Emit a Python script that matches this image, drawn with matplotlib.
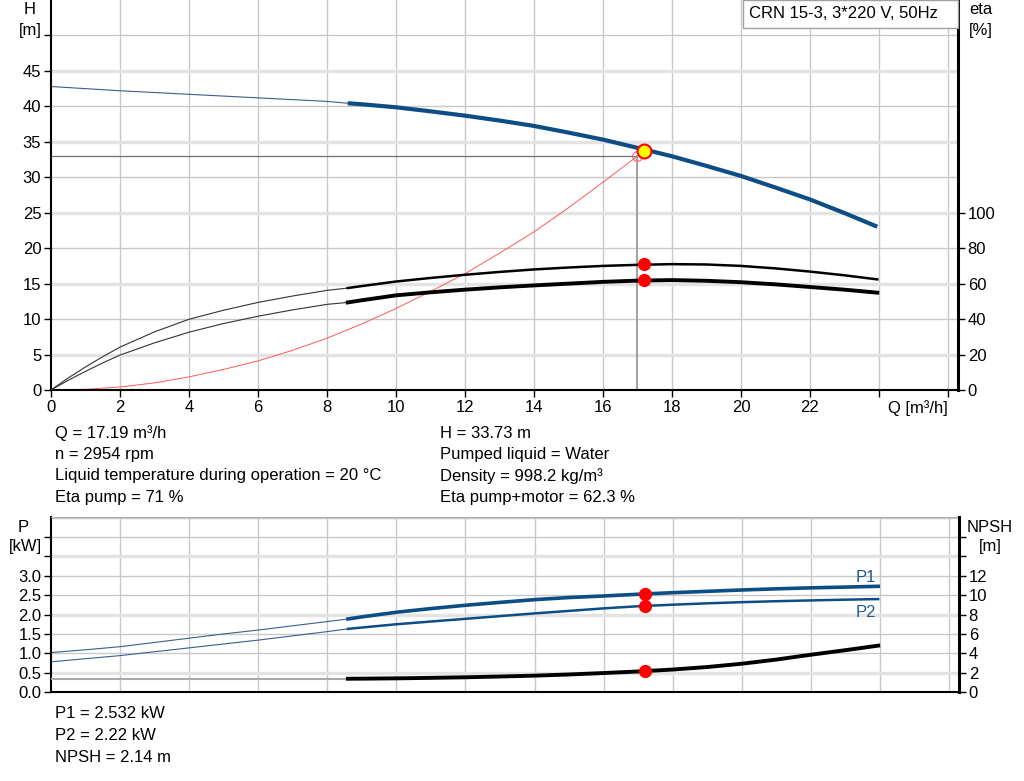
import numpy as np
import matplotlib
matplotlib.use("Agg")
import matplotlib.pyplot as plt
from matplotlib.patches import Rectangle

plt.rcParams['font.family'] = ['Liberation Sans', 'DejaVu Sans']

# duty point
q_duty = 17.19
h_duty = 33.73
eta_pump_duty = 71
eta_total_duty = 62.3
p1_duty = 2.532
p2_duty = 2.22
npsh_duty = 2.14
q_req = 17.0
h_req = 33.0

# H curve
q_h_thin = [0, 2, 4, 6, 8, 8.6]
h_thin = [42.8, 42.2, 41.7, 41.2, 40.7, 40.44]
q_thick = [8.6, 9, 10, 11, 12, 13, 14, 15, 16, 17, 18, 19, 20, 21, 22, 23, 23.95]
h_thick = [40.44, 40.3, 39.87, 39.3, 38.69, 38.0, 37.24, 36.3, 35.31, 34.15,
           32.96, 31.6, 30.18, 28.55, 26.87, 24.95, 23.03]

# eta curves [%]
q_eta_thin = [0, 0.5, 1, 1.5, 2, 3, 4, 5, 6, 7, 8, 8.6]
eta_pump_thin = [0, 6.8, 13.0, 18.8, 24.2, 32.8, 39.9, 45.0, 49.4, 53.0, 56.2, 57.5]
eta_tot_thin = [0, 5.5, 10.5, 15.3, 19.7, 26.6, 32.6, 37.5, 41.6, 45.2, 48.3, 49.4]
eta_pump_thick = [57.5, 58.6, 61.2, 63.2, 65.0, 66.6, 68.0, 69.1, 70.0, 70.6,
                  71.0, 70.8, 70.0, 68.6, 66.8, 64.7, 62.4]
eta_tot_thick = [49.4, 50.6, 53.4, 55.1, 56.6, 57.9, 59.0, 60.0, 61.0, 61.7,
                 62.0, 61.6, 60.8, 59.6, 58.1, 56.6, 54.9]

# system curve
q_sys = [0, 1, 2, 3, 4, 5, 6, 7, 8, 9, 10, 11, 12, 13, 14, 15, 16, 17.0]
h_sys = [0, 0.1, 0.42, 1.0, 1.85, 2.9, 4.1, 5.6, 7.3, 9.3, 11.5, 13.9, 16.4,
         19.3, 22.3, 25.7, 29.3, 33.0]

# power [kW]
q_p_thin = [0, 1, 2, 3, 4, 5, 6, 7, 8, 8.6]
p1_thin = [1.02, 1.09, 1.17, 1.28, 1.39, 1.50, 1.60, 1.71, 1.82, 1.886]
p2_thin = [0.78, 0.86, 0.94, 1.04, 1.14, 1.24, 1.34, 1.45, 1.56, 1.63]
p1_thick = [1.886, 1.94, 2.06, 2.155, 2.24, 2.315, 2.385, 2.44, 2.48, 2.525,
            2.565, 2.60, 2.635, 2.665, 2.69, 2.71, 2.73]
p2_thick = [1.63, 1.665, 1.75, 1.82, 1.89, 1.96, 2.03, 2.095, 2.16, 2.215,
            2.255, 2.29, 2.32, 2.345, 2.365, 2.385, 2.40]

# NPSH [m]
q_npsh_thin = [0, 8.6]
npsh_thin = [1.37, 1.37]
npsh_thick = [1.37, 1.38, 1.41, 1.46, 1.52, 1.60, 1.69, 1.81, 1.96, 2.12,
              2.32, 2.58, 2.92, 3.35, 3.85, 4.32, 4.79]

info_left = ["Q = 17.19 m³/h", "n = 2954 rpm",
             "Liquid temperature during operation = 20 °C", "Eta pump = 71 %"]
info_right = ["H = 33.73 m", "Pumped liquid = Water",
              "Density = 998.2 kg/m³", "Eta pump+motor = 62.3 %"]
info_bottom = ["P1 = 2.532 kW", "P2 = 2.22 kW", "NPSH = 2.14 m"]

BLUE = '#0d4d86'
W, H = 1024, 781
fs = 12
tfs = 12


def px(x, y):
    return x / W, 1 - y / H


fig = plt.figure(figsize=(W / 100, H / 100), dpi=100)
fig.patch.set_facecolor('white')

xmax = 26.29
# ---------------- top panel
ax = fig.add_axes([51 / W, 1 - 390 / H, 907 / W, 390 / H])
ax.set_xlim(0, xmax)
ax.set_ylim(0, 55)
for v in range(2, 27, 2):
    ax.axvline(v, color='#c8c8c8', lw=1, zorder=0)
for v in range(5, 55, 5):
    if v % 10 == 5:
        ax.axhline(v, color='#e3e3e3', lw=2.5, zorder=0)
    else:
        ax.axhline(v, color='#c8c8c8', lw=1, zorder=0)

ax.plot(q_h_thin, h_thin, color='#3a5f8a', lw=0.8)
ax.plot(q_thick, h_thick, color=BLUE, lw=3, solid_capstyle='butt')
ax.plot(q_sys, h_sys, color='#ff5a5a', lw=0.7)
ax.plot([0, q_req], [h_req, h_req], color='#707070', lw=0.9)
ax.plot([q_req, q_req], [0, h_req], color='#a0a0a0', lw=1.4)
ax.plot(q_req, h_req, 'o', mfc='none', mec='#ff6060', ms=7, mew=0.8)
ax.plot(q_duty, h_duty, 'o', mfc='#ffff00', mec='#ff0000', ms=10, mew=1.5, zorder=6)

ax.set_xticks(range(0, 27, 2))
ax.set_xticklabels([str(v) for v in range(0, 23, 2)] + ['', ''])
ax.set_yticks(range(0, 51, 5))
ax.set_yticklabels([str(v) for v in range(0, 46, 5)] + [''])
ax.tick_params(axis='both', labelsize=tfs, length=5, width=1, direction='out', pad=2)
ax.spines['top'].set_visible(False)
ax.spines['right'].set_visible(False)
ax.spines['left'].set_linewidth(1.5)
ax.spines['bottom'].set_linewidth(1.5)

ax2 = ax.twinx()
ax2.set_ylim(0, 220)
ax2.plot(q_eta_thin, eta_pump_thin, color='#333333', lw=0.8)
ax2.plot(q_eta_thin, eta_tot_thin, color='#333333', lw=0.8)
ax2.plot(q_thick, eta_pump_thick, color='black', lw=1.8)
ax2.plot(q_thick, eta_tot_thick, color='black', lw=2.8)
ax2.plot([q_duty, q_duty], [eta_pump_duty, eta_total_duty], 'o', color='#ff0000', ms=8.5, zorder=6)
ax2.set_yticks(range(0, 101, 20))
ax2.tick_params(axis='y', labelsize=tfs, length=5, width=1, pad=2)
for s in ['top', 'left', 'bottom']:
    ax2.spines[s].set_visible(False)
ax2.spines['right'].set_linewidth(2.2)

fig.text(*px(918, 408), "Q [m³/h]", fontsize=tfs, ha='center', va='center')
fig.text(*px(30, 10), "H", fontsize=tfs, ha='center', va='center')
fig.text(*px(30, 30), "[m]", fontsize=tfs, ha='center', va='center')
fig.text(*px(981, 10), "eta", fontsize=tfs, ha='center', va='center')
fig.text(*px(981, 30), "[%]", fontsize=tfs, ha='center', va='center')

x0, y0 = px(743, 28)
fig.patches.append(Rectangle((x0, y0), 215 / W, 28 / H, transform=fig.transFigure,
                             facecolor='white', edgecolor='#a0a0a0', lw=1, zorder=10))
fig.text(*px(749, 14), "CRN 15-3, 3*220 V, 50Hz", fontsize=fs, ha='left', va='center', zorder=11)

for i, t in enumerate(info_left):
    fig.text(*px(55, 433 + 21.5 * i), t, fontsize=fs, ha='left', va='center')
for i, t in enumerate(info_right):
    fig.text(*px(440, 433 + 21.5 * i), t, fontsize=fs, ha='left', va='center')

# ---------------- bottom panel
bx = fig.add_axes([51 / W, 1 - 692 / H, 908 / W, 175 / H])
bx.set_xlim(0, xmax)
bx.set_ylim(0, 4.52)
for v in range(2, 27, 2):
    bx.axvline(v, color='#c8c8c8', lw=1, zorder=0)
for v in np.arange(0.5, 4.6, 0.5):
    if round(v, 1) in (0.5, 2.0, 3.5):
        bx.axhline(v, color='#e3e3e3', lw=2.5, zorder=0)
    else:
        bx.axhline(v, color='#c8c8c8', lw=1, zorder=0)

bx.plot(q_p_thin, p1_thin, color='#3a5f8a', lw=0.8)
bx.plot(q_p_thin, p2_thin, color='#3a5f8a', lw=0.8)
bx.plot(q_thick, p1_thick, color=BLUE, lw=2.6)
bx.plot(q_thick, p2_thick, color=BLUE, lw=1.8)
bx.plot([q_duty, q_duty], [p1_duty, p2_duty], 'o', color='#ff0000', ms=8.5, zorder=6)
bx.text(23.9, 2.96, "P1", color='#1f5a8f', fontsize=tfs, ha='right', va='center')
bx.text(23.9, 2.06, "P2", color='#1f5a8f', fontsize=tfs, ha='right', va='center')

bx.set_xticks([])
bx.set_yticks(np.arange(0, 4.01, 0.5))
bx.set_yticklabels([f"{v:.1f}" for v in np.arange(0, 3.01, 0.5)] + ['', ''])
bx.tick_params(axis='y', labelsize=tfs, length=5, width=1, pad=2)
bx.spines['right'].set_visible(False)
bx.spines['top'].set_color('#b0b0b0')
bx.spines['left'].set_linewidth(1.5)
bx.spines['bottom'].set_linewidth(1.5)

bx2 = bx.twinx()
bx2.set_ylim(0, 4.52 * 4)
bx2.plot(q_npsh_thin, npsh_thin, color='#aaaaaa', lw=1.5)
bx2.plot(q_thick, npsh_thick, color='black', lw=2.8)
bx2.plot(q_duty, npsh_duty, 'o', color='#ff0000', ms=8.5, zorder=6)
bx2.set_yticks(range(0, 17, 2))
bx2.set_yticklabels([str(v) for v in range(0, 13, 2)] + ['', ''])
bx2.tick_params(axis='y', labelsize=tfs, length=5, width=1, pad=2)
for s in ['top', 'left', 'bottom']:
    bx2.spines[s].set_visible(False)
bx2.spines['right'].set_linewidth(2.2)

fig.text(*px(23, 528), "P", fontsize=tfs, ha='center', va='center')
fig.text(*px(25, 547), "[kW]", fontsize=tfs, ha='center', va='center')
fig.text(*px(990, 528), "NPSH", fontsize=tfs, ha='center', va='center')
fig.text(*px(990, 547), "[m]", fontsize=tfs, ha='center', va='center')

for i, t in enumerate(info_bottom):
    fig.text(*px(55, 714 + 21.5 * i), t, fontsize=fs, ha='left', va='center')

fig.savefig("out.png", dpi=100)
